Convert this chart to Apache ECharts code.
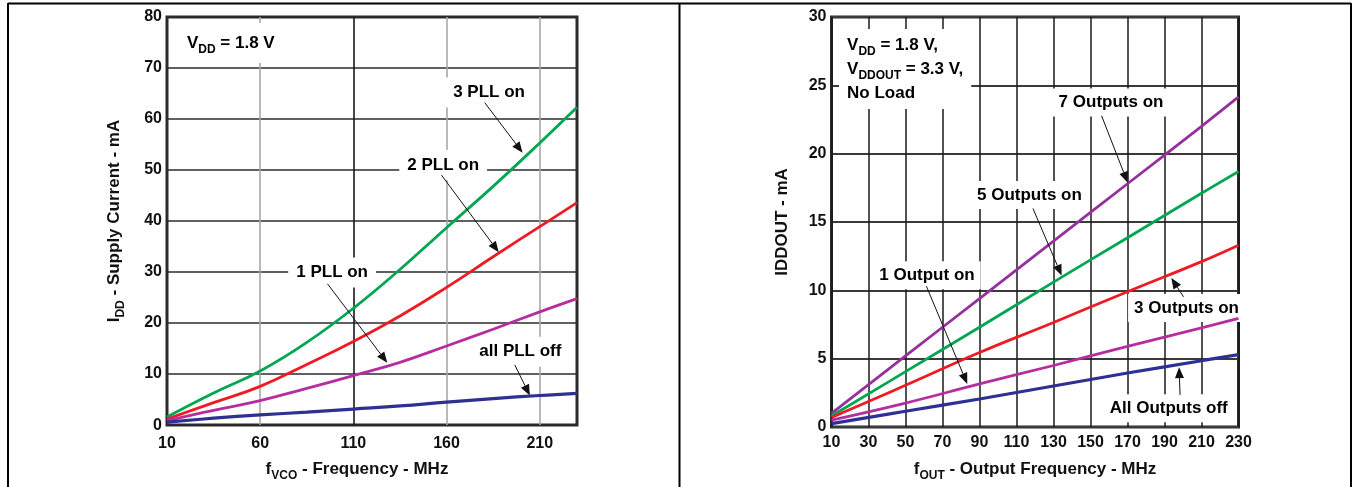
<!DOCTYPE html>
<html>
<head>
<meta charset="utf-8">
<script src="https://cdn.jsdelivr.net/npm/echarts@6/dist/echarts.min.js"></script>
<style>
html,body{margin:0;padding:0;background:#fff;}
#c{width:1353px;height:487px;}
</style>
</head>
<body>
<div id="c"></div>
<script>
// ---------- data ----------
// Left panel: I_DD vs f_VCO
const vcoFreq = [10, 35, 60, 85, 110, 135, 160, 185, 210, 230];
const pll3On  = [1.6, 6.3, 10.6, 16.2, 22.9, 30.5, 38.7, 46.8, 55.3, 62.3];
const pll2On  = [1.2, 4.4, 7.6, 11.9, 16.4, 21.4, 27.0, 33.0, 38.9, 43.6];
const pll1On  = [0.9, 2.9, 4.8, 7.2, 9.7, 12.3, 15.5, 18.8, 22.2, 24.8];
const pllOff  = [0.6, 1.35, 2.0, 2.55, 3.15, 3.75, 4.5, 5.2, 5.8, 6.2];
const vcoTicks = [10, 60, 110, 160, 210];

// Right panel: IDDOUT vs f_OUT
const outFreq = [10, 50, 90, 130, 170, 210, 230];
const out7On  = [1.0, 5.2, 9.4, 13.6, 17.8, 22.0, 24.15];
const out5On  = [0.8, 4.05, 7.3, 10.6, 13.85, 17.1, 18.7];
const out3On  = [0.7, 3.05, 5.45, 7.65, 9.9, 12.1, 13.3];
const out1On  = [0.5, 1.75, 3.15, 4.5, 5.9, 7.25, 7.95];
const outOff  = [0.25, 1.15, 2.05, 3.0, 3.95, 4.85, 5.3];
const outTicks = [10, 30, 50, 70, 90, 110, 130, 150, 170, 190, 210, 230];

// Annotations (label centre, arrow tail, arrow tip) in data units
const leftNotes = [
  {text: '3 PLL on',    at: [182.8, 65.2], from: [180.5, 63.2], to: [200.8, 53.4]},
  {text: '2 PLL on',    at: [158.2, 51.0], from: [157.3, 49.0], to: [188.0, 33.9]},
  {text: '1 PLL on',    at: [98.6, 29.9],  from: [96.1, 27.7],  to: [128.2, 12.2]},
  {text: 'all PLL off', at: [199.6, 14.4], from: [196.6, 11.8], to: [204.7, 5.8]}
];
const rightNotes = [
  {text: '7 Outputs on',    at: [161.1, 23.75], from: [156.0, 22.77], to: [170.1, 17.88]},
  {text: '5 Outputs on',    at: [117.0, 16.97], from: [118.9, 15.99], to: [134.4, 11.08]},
  {text: '1 Output on',     at: [61.6, 11.1],   from: [61.3, 10.3],   to: [83.4, 3.15]},
  {text: '3 Outputs on',    at: [201.9, 8.71],  from: [200.3, 9.52],  to: [193.7, 10.91]},
  {text: 'All Outputs off', at: [192.3, 1.37],  from: [198.4, 2.35],  to: [197.9, 4.38]}
];

// ---------- styling ----------
const FONT = '"Liberation Sans", Arial, Helvetica, sans-serif';
const INK = '#111';
const C_GREEN = '#00a651', C_RED = '#ed1c24', C_MAG = '#b52d9e', C_PURP = '#96309d', C_BLUE = '#2e3192';

const rich = {
  m: {fontFamily: FONT, fontWeight: 'bold', fontSize: 17, color: INK, lineHeight: 24, verticalAlign: 'middle'},
  s: {fontFamily: FONT, fontWeight: 'bold', fontSize: 12, color: INK, lineHeight: 12, verticalAlign: 'middle', padding: [14, 0, 0, 0]}
};
const tickLabel = {fontFamily: FONT, fontWeight: 'bold', fontSize: 16, color: INK};

function zip(xs, ys) { return xs.map((x, i) => [x, ys[i]]); }
function line(name, xs, ys, color, gi, w) {
  return {
    name, type: 'line', xAxisIndex: gi, yAxisIndex: gi,
    data: zip(xs, ys), showSymbol: false, smooth: 0.45, z: 3,
    lineStyle: {color, width: w || 2.8}, silent: true, animation: false
  };
}

const chart = echarts.init(document.getElementById('c'), null, {renderer: 'canvas'});

chart.setOption({
  animation: false,
  backgroundColor: '#fff',
  grid: [
    {left: 167, top: 17, width: 410, height: 410, show: true, borderColor: '#2b2b2b', borderWidth: 3, backgroundColor: 'transparent'},
    {left: 831.5, top: 17, width: 407, height: 410, show: true, borderColor: '#2b2b2b', borderWidth: 3, backgroundColor: 'transparent'}
  ],
  xAxis: [
    {
      type: 'value', gridIndex: 0, min: 10, max: 230, interval: 50,
      axisLine: {show: false}, axisTick: {show: false},
      axisLabel: Object.assign({margin: 10, showMaxLabel: false,
        formatter: v => vcoTicks.includes(v) ? String(v) : ''}, tickLabel),
      splitLine: {show: true, lineStyle: {color: ['rgba(0,0,0,0)', '#a8a8a8', '#1a1a1a', '#a8a8a8', '#a8a8a8', 'rgba(0,0,0,0)'], width: 1.6}},
      name: '{m|f}{s|VCO}{m| - Frequency - MHz}', nameLocation: 'middle', nameGap: 27,
      nameTextStyle: {rich, padding: [0, 30, 0, 0]}
    },
    {
      type: 'value', gridIndex: 1, min: 10, max: 230, interval: 20,
      axisLine: {show: false}, axisTick: {show: false},
      axisLabel: Object.assign({margin: 8, formatter: v => outTicks.includes(v) ? String(v) : ''}, tickLabel),
      splitLine: {show: true, lineStyle: {color: '#1a1a1a', width: 1.5}},
      name: '{m|f}{s|OUT}{m| - Output Frequency - MHz}', nameLocation: 'middle', nameGap: 24,
      nameTextStyle: {rich}
    }
  ],
  yAxis: [
    {
      type: 'value', gridIndex: 0, min: 0, max: 80, interval: 10,
      axisLine: {show: false}, axisTick: {show: false},
      axisLabel: Object.assign({margin: 5}, tickLabel),
      splitLine: {show: true, lineStyle: {color: '#2b2b2b', width: 1.5}},
      name: '{m|I}{s|DD}{m| - Supply Current - mA}', nameLocation: 'middle', nameRotate: 90, nameGap: 41,
      nameTextStyle: {rich}
    },
    {
      type: 'value', gridIndex: 1, min: 0, max: 30, interval: 5,
      axisLine: {show: false}, axisTick: {show: false},
      axisLabel: Object.assign({margin: 5}, tickLabel),
      splitLine: {show: true, lineStyle: {color: '#3a3a3a', width: 2}},
      name: '{m|IDDOUT - mA}', nameLocation: 'middle', nameRotate: 90, nameGap: 37,
      nameTextStyle: {rich}
    }
  ],
  series: [
    line('3 PLL on', vcoFreq, pll3On, C_GREEN, 0),
    line('2 PLL on', vcoFreq, pll2On, C_RED, 0),
    line('1 PLL on', vcoFreq, pll1On, C_MAG, 0),
    line('all PLL off', vcoFreq, pllOff, C_BLUE, 0, 3.2),
    line('7 Outputs on', outFreq, out7On, C_PURP, 1),
    line('5 Outputs on', outFreq, out5On, C_GREEN, 1),
    line('3 Outputs on', outFreq, out3On, C_RED, 1),
    line('1 Output on', outFreq, out1On, C_MAG, 1),
    line('All Outputs off', outFreq, outOff, C_BLUE, 1, 3.2)
  ]
});

// ---------- annotations ----------
function toPx(gi, p) { return chart.convertToPixel({gridIndex: gi}, p); }
function labelEl(gi, text, p, align, pad) {
  const q = toPx(gi, p);
  return {
    type: 'text', z: 1, x: q[0], y: q[1], silent: true,
    style: {
      text, rich, align: align || 'center', verticalAlign: 'middle',
      backgroundColor: '#fff', padding: pad || [3, 8]
    }
  };
}
function arrowEls(gi, from, to) {
  const a = toPx(gi, from), b = toPx(gi, to);
  const dx = b[0] - a[0], dy = b[1] - a[1], len = Math.hypot(dx, dy);
  const ux = dx / len, uy = dy / len, hl = 11, hw = 4.5;
  const bx = b[0] - ux * hl, by = b[1] - uy * hl;
  return [
    {type: 'line', z: 6, silent: true, shape: {x1: a[0], y1: a[1], x2: bx, y2: by}, style: {stroke: INK, lineWidth: 1}},
    {type: 'polygon', z: 6, silent: true,
     shape: {points: [[b[0], b[1]], [bx - uy * hw, by + ux * hw], [bx + uy * hw, by - ux * hw]]},
     style: {fill: INK}}
  ];
}

const g = [];
leftNotes.forEach(n => { g.push(labelEl(0, '{m|' + n.text + '}', n.at)); g.push(...arrowEls(0, n.from, n.to)); });
rightNotes.forEach(n => { g.push(labelEl(1, '{m|' + n.text + '}', n.at, 'center', [2, 6])); g.push(...arrowEls(1, n.from, n.to)); });

// condition boxes
(function () {
  const q = toPx(0, [20.7, 74.9]);
  g.push({type: 'text', z: 1, x: q[0] - 8, y: q[1], silent: true,
    style: {text: '{m|V}{s|DD}{m| = 1.8 V}', rich, align: 'left', verticalAlign: 'middle', backgroundColor: '#fff', padding: [8, 8]}});
  const r = toPx(1, [18.4, 26.2]);
  g.push({type: 'text', z: 1, x: r[0] - 8, y: r[1], silent: true,
    style: {text: '{m|V}{s|DD}{m| = 1.8 V,}\n{m|V}{s|DDOUT}{m| = 3.3 V,}\n{m|No Load}', rich, align: 'left', verticalAlign: 'middle', backgroundColor: '#fff', padding: [4, 8]}});
})();

// outer frame
[[8, 3.5, 1351, 3.5], [8, 3, 8, 487], [679.5, 3, 679.5, 487], [1351, 3, 1351, 487]].forEach(s => {
  g.push({type: 'line', z: 10, silent: true, shape: {x1: s[0], y1: s[1], x2: s[2], y2: s[3]}, style: {stroke: '#000', lineWidth: 2}});
});

chart.setOption({graphic: g});
</script>
</body>
</html>
